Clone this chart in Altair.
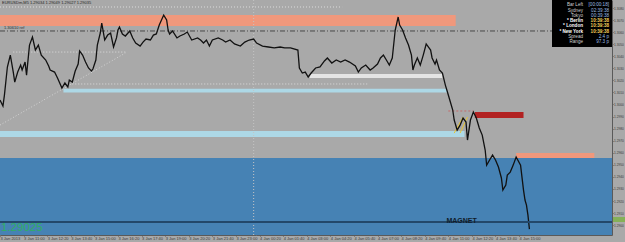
import json
import altair as alt
import pandas as pd

# ---------------- data ----------------
bars = [0, 2, 3, 5, 7, 9, 10, 12, 14, 15,
        17, 18, 20, 22, 24, 26, 28, 31, 33, 34,
        37, 39, 42, 44, 46, 47, 49, 51, 53, 54,
        56, 58, 60, 62, 63, 65, 66, 68, 69, 71,
        73, 75, 77, 79, 80, 81, 83, 85, 88, 90,
        92, 95, 97, 99, 102, 104, 106, 108, 111, 113,
        114, 115, 117, 120, 122, 125, 127, 130, 134, 136,
        138, 140, 142, 144, 148, 151, 153, 156, 159, 163,
        166, 169, 172, 174, 178, 182, 186, 190, 193, 197,
        202, 203, 205, 207, 209, 211, 214, 217, 220, 222,
        225, 228, 231, 234, 237, 241, 243, 245, 248, 251,
        253, 256, 258, 260, 262, 264, 266, 268, 270, 271,
        273, 275, 277, 279, 280, 281, 283, 285, 287, 289,
        292, 293, 295, 296, 298, 300, 302, 303, 305, 307,
        308, 310, 312, 314, 316, 317, 319, 321, 323, 325,
        327, 329, 330, 332, 334, 336, 338, 340, 341, 343,
        344, 346, 348, 350, 353, 355, 356, 357, 358, 359]

closes = [1.30037, 1.29987, 1.30078, 1.30311, 1.30410, 1.30269, 1.30186, 1.30269, 1.30327, 1.30286,
          1.30352, 1.30244, 1.30493, 1.30560, 1.30452, 1.30493, 1.30410, 1.30369, 1.30319, 1.30286,
          1.30269, 1.30220, 1.30137, 1.30178, 1.30145, 1.30203, 1.30186, 1.30278, 1.30336, 1.30444,
          1.30410, 1.30352, 1.30303, 1.30278, 1.30294, 1.30369, 1.30493, 1.30593, 1.30676, 1.30535,
          1.30576, 1.30593, 1.30477, 1.30552, 1.30618, 1.30643, 1.30585, 1.30568, 1.30610, 1.30552,
          1.30510, 1.30485, 1.30518, 1.30543, 1.30535, 1.30576, 1.30585, 1.30659, 1.30742, 1.30701,
          1.30618, 1.30585, 1.30610, 1.30552, 1.30568, 1.30585, 1.30601, 1.30535, 1.30552, 1.30535,
          1.30510, 1.30535, 1.30485, 1.30535, 1.30552, 1.30535, 1.30518, 1.30535, 1.30502, 1.30485,
          1.30518, 1.30535, 1.30543, 1.30510, 1.30485, 1.30477, 1.30469, 1.30477, 1.30469, 1.30469,
          1.30452, 1.30303, 1.30261, 1.30269, 1.30228, 1.30261, 1.30303, 1.30311, 1.30361, 1.30386,
          1.30344, 1.30369, 1.30352, 1.30369, 1.30352, 1.30319, 1.30269, 1.30303, 1.30327, 1.30286,
          1.30303, 1.30336, 1.30386, 1.30410, 1.30369, 1.30327, 1.30386, 1.30618, 1.30726, 1.30659,
          1.30618, 1.30552, 1.30493, 1.30410, 1.30286, 1.30327, 1.30386, 1.30327, 1.30410, 1.30502,
          1.30452, 1.30386, 1.30336, 1.30369, 1.30286, 1.30261, 1.30161, 1.30120, 1.30037, 1.29954,
          1.29871, 1.29788, 1.29829, 1.29888, 1.29854, 1.29705, 1.29871, 1.29937, 1.29888, 1.29805,
          1.29746, 1.29622, 1.29497, 1.29539, 1.29580, 1.29539, 1.29481, 1.29390, 1.29290, 1.29331,
          1.29414, 1.29439, 1.29497, 1.29564, 1.29497, 1.29290, 1.29207, 1.29165, 1.29082, 1.28966]

assert len(bars) == len(closes)

price_top = 1.30867
price_bottom = 1.28917
bar_first, bar_last = 0, 415

# zones (rectangles)
zone_kind = ["magnet zone", "supply", "support 1", "support 2", "range low", "order block", "resistance"]
zone_x1 = [0, 0, 43, 0, 210, 322, 350]
zone_x2 = [415, 309, 303, 315, 300, 355, 403]
zone_lo = [1.28917, 1.30651, 1.30100, 1.29730, 1.30220, 1.29888, 1.29556]
zone_hi = [1.29556, 1.30742, 1.30130, 1.29780, 1.30253, 1.29937, 1.29597]
zone_colors = ["#4682b4", "#f0987c", "#add8e6", "#add8e6", "#e4e4e4", "#b22222", "#f0987c"]

# dotted guide lines
dot_x1 = [0, 9, 49]
dot_x2 = [232, 85, 249]
dot_price = [1.30809, 1.30435, 1.30170]

# dotted trend line
trend_x1, trend_x2 = [0], [85]
trend_p1, trend_p2 = [1.29829], [1.30427]

# day separator
day_sep_bar = [172]

# dash-dot reference line
ref_price = [1.30610]
ref_label = ["1.30610 ref"]

# small yellow lines
yel_x1 = [308, 312]
yel_x2 = [314, 317]
yel_p1 = [1.29763, 1.29763]
yel_p2 = [1.29896, 1.29896]

# red dashed line
red_x1, red_x2, red_price = [304], [321], [1.29946]

# magnet level
magnet_price = [1.29025]
magnet_label = ["MAGNET"]
magnet_label_bar = [313]
price_text = ["1.29025"]

# axes
tick_prices = [1.289, 1.290, 1.291, 1.292, 1.293, 1.294, 1.295, 1.296, 1.297, 1.298,
               1.299, 1.300, 1.301, 1.302, 1.303, 1.304, 1.305, 1.306, 1.307, 1.308]
time_ticks = [0, 16, 32, 48, 64, 80, 96, 112, 128, 144, 160, 176, 192, 208, 224, 240,
              256, 272, 288, 304, 320, 336, 352]
time_labels = ["3 Jan 2013", "3 Jan 11:00", "3 Jan 12:20", "3 Jan 13:40", "3 Jan 15:00",
               "3 Jan 16:20", "3 Jan 17:40", "3 Jan 19:00", "3 Jan 20:20", "3 Jan 21:40",
               "3 Jan 23:00", "4 Jan 00:20", "4 Jan 01:40", "4 Jan 03:00", "4 Jan 04:20",
               "4 Jan 05:40", "4 Jan 07:00", "4 Jan 08:20", "4 Jan 09:40", "4 Jan 11:00",
               "4 Jan 12:20", "4 Jan 13:40", "4 Jan 15:00"]

title_text = "EURUSDm,M5  1.29034 1.29049 1.29027 1.29035"

# info panel
info_labels = ["Bar Left", "Sydney", "Tokyo", "* Berlin", "* London", "* New York", "Spread", "Range"]
info_values = ["[00:00:18]", "02:39:38", "00:39:38", "10:39:38", "10:39:38", "10:39:38", "2.4 p", "97.3 p"]
info_hot = [False, False, False, True, True, True, False, False]

# ---------------- chart ----------------
FONT = "Liberation Sans"
W, H = 612, 235

xs = alt.Scale(domain=[bar_first, bar_last], nice=False, zero=False)
ys = alt.Scale(domain=[price_bottom, price_top], nice=False, zero=False)

x_axis = alt.Axis(values=time_ticks,
                  labelExpr=f"{json.dumps(time_labels)}[indexof({json.dumps(time_ticks)}, datum.value)]",
                  labelAlign="left", labelFontSize=4, labelColor="#3a3a3a", labelPadding=0,
                  labelOverlap=False, labelFlush=False, tickSize=1, tickColor="#555555",
                  domainColor="#5a5a5a", grid=False, title=None, labelFont=FONT)
y_axis = alt.Axis(values=tick_prices, format=".4f", orient="right", labelFontSize=3.2,
                  labelColor="#3a3a3a", labelPadding=0.5, labelOverlap=False, labelFlush=False,
                  tickSize=1, tickColor="#555555", domainColor="#5a5a5a", grid=False,
                  title=None, labelFont=FONT)


def X(f):
    return alt.X(f, type="quantitative", scale=xs, axis=x_axis)


def Y(f):
    return alt.Y(f, type="quantitative", scale=ys, axis=y_axis)


zones = pd.DataFrame({"kind": zone_kind, "x1": zone_x1, "x2": zone_x2, "lo": zone_lo, "hi": zone_hi})
zone_layer = alt.Chart(zones).mark_rect().encode(
    x=X("x1"), x2="x2", y=Y("lo"), y2="hi",
    color=alt.Color("kind:N", scale=alt.Scale(domain=zone_kind, range=zone_colors), legend=None),
    order=alt.Order("x1:Q"),
)

dots = pd.DataFrame({"x1": dot_x1, "x2": dot_x2, "p": dot_price})
dot_layer = alt.Chart(dots).mark_rule(color="#dcdcdc", strokeDash=[1, 2], strokeWidth=1).encode(
    x=X("x1"), x2="x2", y=Y("p"))

trend = pd.DataFrame({"x1": trend_x1, "x2": trend_x2, "p1": trend_p1, "p2": trend_p2})
trend_layer = alt.Chart(trend).mark_rule(color="#d4d4d4", strokeDash=[1, 2], strokeWidth=1).encode(
    x=X("x1"), x2="x2", y=Y("p1"), y2="p2")

sep = pd.DataFrame({"b": day_sep_bar})
sep_layer = alt.Chart(sep).mark_rule(color="#c4c4c4", strokeDash=[1, 2], strokeWidth=1).encode(x=X("b"))

ref = pd.DataFrame({"p": ref_price, "label": ref_label})
ref_layer = alt.Chart(ref).mark_rule(color="#4a4a4a", strokeDash=[5, 2, 1, 2], strokeWidth=1).encode(
    x=alt.value(0), x2=alt.value(W), y=Y("p"))
ref_text = alt.Chart(ref).mark_text(align="left", baseline="bottom", fontSize=4, color="#303030",
                                    font=FONT, dx=0, dy=-1).encode(
    x=alt.value(4), y=Y("p"), text="label:N")

yel = pd.DataFrame({"x1": yel_x1, "x2": yel_x2, "p1": yel_p1, "p2": yel_p2})
yel_layer = alt.Chart(yel).mark_rule(color="#e8c531", strokeWidth=1).encode(
    x=X("x1"), x2="x2", y=Y("p1"), y2="p2")

red = pd.DataFrame({"x1": red_x1, "x2": red_x2, "p": red_price})
red_layer = alt.Chart(red).mark_rule(color="#c46a6a", strokeDash=[2, 2], strokeWidth=1).encode(
    x=X("x1"), x2="x2", y=Y("p"))

price = pd.DataFrame({"bar": bars, "close": closes})
price_layer = alt.Chart(price).mark_line(color="#111111", strokeWidth=1.3).encode(
    x=X("bar"), y=Y("close"))

mag = pd.DataFrame({"p": magnet_price, "label": magnet_label, "b": magnet_label_bar, "ptxt": price_text})
mag_layer = alt.Chart(mag).mark_rule(color="#23486a", strokeWidth=2).encode(
    x=alt.value(0), x2=alt.value(W), y=Y("p"))
mag_text = alt.Chart(mag).mark_text(fontSize=7, fontWeight="bold", color="#101c2a", font=FONT,
                                    baseline="middle", dy=-1).encode(
    x=X("b"), y=Y("p"), text="label:N")
mag_price_text = alt.Chart(mag).mark_text(fontSize=11.5, color="#2fae62", font=FONT, align="left",
                                          baseline="top", dy=0).encode(
    x=alt.value(1), y=Y("p"), text="ptxt:N")

one = pd.DataFrame({"k": [0]})
title_layer = alt.Chart(one).mark_text(align="left", baseline="middle", fontSize=4, color="#262626",
                                       font=FONT).encode(
    x=alt.value(2), y=alt.value(3), text=alt.value(title_text))

panel = alt.Chart(one).mark_rect(color="#000000").encode(
    x=alt.value(552), x2=alt.value(W), y=alt.value(0), y2=alt.value(47))

info_layers = []
for i, (lab, val, hot) in enumerate(zip(info_labels, info_values, info_hot)):
    yy = 5.3 + 5.29 * i
    info_layers.append(alt.Chart(one).mark_text(
        align="right", baseline="middle", fontSize=4.6, font=FONT,
        color="#ffffff" if hot else "#cfcfcf", fontWeight="bold" if hot else "normal").encode(
        x=alt.value(583), y=alt.value(yy), text=alt.value(lab)))
    info_layers.append(alt.Chart(one).mark_text(
        align="right", baseline="middle", fontSize=4.6, font=FONT,
        color="#f2d15a" if hot else "#9dbde0", fontWeight="bold" if hot else "normal").encode(
        x=alt.value(609), y=alt.value(yy), text=alt.value(val)))

tag = alt.Chart(mag).mark_rect(color="#7fb24a", opacity=0.85).encode(
    x=alt.value(W + 1), x2=alt.value(W + 13), y=Y("p"), y2=alt.value(217))

chart = alt.layer(
    zone_layer, dot_layer, trend_layer, sep_layer, ref_layer, ref_text, yel_layer, red_layer,
    price_layer, mag_layer, mag_text, mag_price_text, title_layer, panel, *info_layers, tag,
).properties(
    width=W, height=H,
    autosize=alt.AutoSizeParams(type="none"),
    padding={"left": 0, "top": 0, "right": 13, "bottom": 7},
).configure(background="#a9a9a9").configure_view(stroke=None)

chart.save("out.html", embed_options={"renderer": "svg", "actions": False})
